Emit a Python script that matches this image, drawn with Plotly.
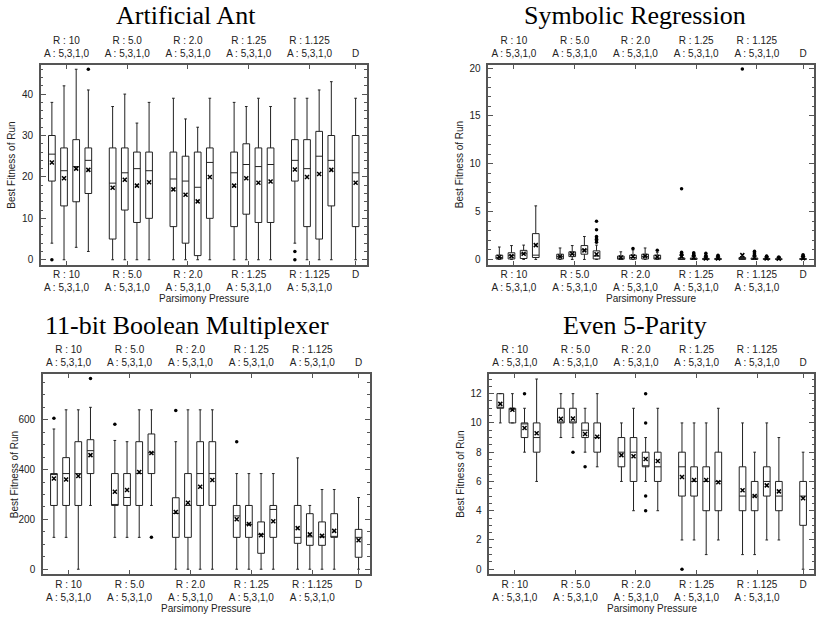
import plotly.graph_objects as go

# ---------------- data ----------------
group_labels = ["R : 10<br>A : 5,3,1,0", "R : 5.0<br>A : 5,3,1,0", "R : 2.0<br>A : 5,3,1,0",
                "R : 1.25<br>A : 5,3,1,0", "R : 1.125<br>A : 5,3,1,0", "D"]
panel_titles = ["Artificial Ant", "Symbolic Regression", "11-bit Boolean Multiplexer", "Even 5-Parity"]

# Artificial Ant (20 boxes = 5 groups x A:5,3,1,0  + D)
ant_low  = [4, 0, 3, 2, 0, 0, 0, 0, 0, 0, 0, 0, 0, 0, 0, 0, 4, 0, 0, 0, 0]
ant_q1   = [19, 13, 14, 16, 5, 12, 9, 10, 8, 4, 1, 10, 8, 11, 9, 9, 19, 8, 5, 13, 8]
ant_med  = [25.5, 21.5, 22.5, 24, 18.5, 21, 22, 21.5, 19.5, 19, 17.5, 23.5, 21, 23, 22.5, 23, 24, 22, 25, 24, 21]
ant_q3   = [30, 27, 29, 27, 27, 27, 26, 26, 26, 25, 26, 27, 26, 28, 27, 27, 29, 29, 31, 30, 30]
ant_high = [38, 42, 46, 41, 37, 40, 33, 38, 39, 34, 32, 39, 38, 37, 39, 37, 39, 39, 41, 43, 39]
ant_mean = [23.5, 19.7, 22, 21.7, 17.4, 19.3, 17.9, 18.7, 17, 15.7, 14.1, 20, 17.9, 19.7, 18.6, 18.9, 21.8, 20, 20.7, 21.7, 18.6]
ant_out_box = [0, 3, 16, 16]
ant_out_val = [0, 46, 2, 0]

# Symbolic Regression
sr_low  = [0] * 21
sr_q1   = [0.05, 0.05, 0.1, 0.2, 0.05, 0.3, 0.55, 0.05, 0.03, 0.03, 0.05, 0.03, 0, 0, 0, 0, 0, 0, 0, 0, 0]
sr_med  = [0.2, 0.4, 0.6, 0.45, 0.3, 0.55, 1.0, 0.35, 0.15, 0.2, 0.3, 0.15, 0.05, 0.05, 0.03, 0.03, 0.05, 0.05, 0.03, 0.02, 0.03]
sr_q3   = [0.45, 0.7, 0.95, 2.7, 0.55, 0.8, 1.45, 0.9, 0.35, 0.45, 0.55, 0.45, 0.15, 0.15, 0.1, 0.1, 0.2, 0.15, 0.1, 0.08, 0.1]
sr_high = [1.3, 1.45, 1.5, 5.6, 1.2, 1.45, 2.4, 1.5, 0.8, 1.0, 1.2, 0.75, 0.35, 0.35, 0.25, 0.25, 0.45, 0.35, 0.25, 0.2, 0.25]
sr_mean = [0.25, 0.35, 0.6, 1.5, 0.3, 0.6, 0.95, 0.55, 0.2, 0.3, 0.35, 0.25, 0.3, 0.2, 0.1, 0.1, 0.45, 0.2, 0.1, 0.08, 0.12]
sr_out_box = [7, 7, 7, 7, 7, 7, 7, 9, 11, 12, 12, 12, 12, 12, 13, 13, 13, 13, 14, 14, 14, 15, 15,
              16, 17, 17, 17, 17, 18, 18, 19, 20, 20, 20]
sr_out_val = [4.0, 3.1, 2.4, 2.25, 2.1, 1.95, 1.8, 1.15, 0.95, 7.4, 0.75, 0.6, 0.5, 0.45, 0.7, 0.6, 0.5, 0.42,
              0.65, 0.4, 0.35, 0.45, 0.35, 19.9, 0.85, 0.7, 0.6, 0.5, 0.35, 0.3, 0.25, 0.5, 0.4, 0.3]

# 11-bit Boolean Multiplexer
mux_low  = [128, 128, 0, 256, 128, 128, 128, 256, 0, 0, 0, 0, 0, 0, 0, 0, 0, 0, 0, 0, 0]
mux_q1   = [256, 256, 256, 384, 256, 256, 256, 384, 128, 128, 256, 256, 128, 128, 64, 128, 104, 96, 96, 128, 48]
mux_med  = [384, 384, 384, 476, 256, 288, 384, 468, 224, 256, 384, 384, 214, 180, 140, 240, 128, 130, 130, 128, 128]
mux_q3   = [384, 448, 512, 520, 384, 384, 512, 543, 287, 384, 512, 512, 256, 256, 190, 256, 256, 223, 190, 223, 160]
mux_high = [563, 640, 640, 650, 517, 512, 640, 640, 512, 640, 640, 640, 384, 384, 384, 384, 447, 256, 320, 320, 288]
mux_mean = [364, 360, 374, 458, 311, 318, 390, 467, 230, 267, 331, 358, 201, 181, 137, 193, 165, 140, 134, 154, 116]
mux_out_box = [0, 3, 4, 7, 8, 12]
mux_out_val = [606, 766, 582, 128, 637, 512]

# Even 5-Parity
par_low  = [10, 10, 8, 6, 9, 9, 8, 7, 6, 4, 6, 4, 2, 2, 1, 2, 1, 1, 2, 2, 0]
par_q1   = [11, 10, 9, 8, 10, 10, 9, 8, 7, 6, 7, 6, 5, 5, 4, 4, 4, 4, 5, 4, 3]
par_med  = [11, 11, 10, 9, 10, 10, 9.5, 9, 8, 8, 7, 7, 7, 6, 6, 6, 5, 5, 6, 5, 5]
par_q3   = [12, 11, 10, 10, 11, 11, 10, 10, 9, 9, 8, 8, 8, 7, 7, 8, 7, 6, 7, 6, 6]
par_high = [12, 12, 11, 13, 12, 12, 11, 12, 10, 11, 9, 11, 10, 10, 10, 11, 10, 8, 10, 9, 8]
par_mean = [11.3, 10.9, 9.65, 9.3, 10.28, 10.3, 9.24, 9.06, 7.8, 7.72, 7.54, 7.4, 6.3, 6.1, 6.1, 5.95, 5.4, 5.0, 5.73, 5.32, 4.85]
par_out_box = [2, 5, 6, 10, 10, 10, 10, 12]
par_out_val = [12, 8, 7, 12, 10, 5, 4, 0]

# ---------------- figure ----------------
W, H = 816, 619
positions = [5 * g + k for g in range(5) for k in range(4)] + [25]
tick_pos = [5 * g + 1.2 for g in range(5)] + [25]

panels = [
    dict(low=ant_low, q1=ant_q1, med=ant_med, q3=ant_q3, high=ant_high, mean=ant_mean,
         ob=ant_out_box, ov=ant_out_val, yr=[-1.2, 47.1], dt=10, mdt=2,
         px=(41, 367), py=(63, 264), tx=186, ty=14),
    dict(low=sr_low, q1=sr_q1, med=sr_med, q3=sr_q3, high=sr_high, mean=sr_mean,
         ob=sr_out_box, ov=sr_out_val, yr=[-0.55, 20.35], dt=5, mdt=1,
         px=(489, 815), py=(63, 264), tx=636, ty=14),
    dict(low=mux_low, q1=mux_q1, med=mux_med, q3=mux_q3, high=mux_high, mean=mux_mean,
         ob=mux_out_box, ov=mux_out_val, yr=[-20, 783], dt=200, mdt=50,
         px=(43, 370), py=(374, 575), tx=187, ty=325),
    dict(low=par_low, q1=par_q1, med=par_med, q3=par_q3, high=par_high, mean=par_mean,
         ob=par_out_box, ov=par_out_val, yr=[-0.34, 13.33], dt=2, mdt=0.5,
         px=(490, 815), py=(374, 575), tx=636, ty=325),
]

fig = go.Figure()
lay = {}
annotations = []
sans = "Liberation Sans, Arial, sans-serif"
ink = "#222222"
frame = "#555555"

for i, p in enumerate(panels):
    n = i + 1
    xa = "x" if n == 1 else f"x{n}"
    ya = "y" if n == 1 else f"y{n}"
    xtop = f"x{n + 4}"
    fig.add_trace(go.Box(
        x=positions, q1=p["q1"], median=p["med"], q3=p["q3"],
        lowerfence=p["low"], upperfence=p["high"],
        width=0.55, whiskerwidth=0.4, boxpoints=False,
        line=dict(color=ink, width=1), fillcolor="rgba(0,0,0,0)",
        xaxis=xa, yaxis=ya, showlegend=False, hoverinfo="skip"))
    fig.add_trace(go.Scatter(
        x=positions, y=p["mean"], mode="markers",
        marker=dict(symbol="x-thin", size=4, line=dict(color="black", width=1.5)),
        xaxis=xa, yaxis=ya, showlegend=False, hoverinfo="skip"))
    fig.add_trace(go.Scatter(
        x=[positions[b] for b in p["ob"]], y=p["ov"], mode="markers",
        marker=dict(symbol="circle", size=3.5, color="black"),
        xaxis=xa, yaxis=ya, showlegend=False, hoverinfo="skip"))
    # invisible trace so that the mirrored top axis is drawn
    fig.add_trace(go.Scatter(
        x=positions, y=p["mean"], mode="markers", marker=dict(opacity=0),
        xaxis=xtop, yaxis=ya, showlegend=False, hoverinfo="skip"))

    xd = [p["px"][0] / W, p["px"][1] / W]
    yd = [1 - p["py"][1] / H, 1 - p["py"][0] / H]
    common_x = dict(range=[-0.9, 25.9], tickmode="array", tickvals=tick_pos, ticktext=group_labels,
                    ticks="inside", ticklen=4, tickcolor=frame, showgrid=False, zeroline=False,
                    tickfont=dict(family=sans, size=10, color=ink), domain=xd)
    lay["xaxis" if n == 1 else f"xaxis{n}"] = dict(
        common_x, anchor=ya, showline=True, linecolor=frame, linewidth=1.5, mirror=True, side="bottom")
    lay[f"xaxis{n + 4}"] = dict(common_x, anchor=ya, overlaying=xa, side="top", showline=False,
                                ticklabelstandoff=5)
    lay["yaxis" if n == 1 else f"yaxis{n}"] = dict(
        range=p["yr"], domain=yd, anchor=xa, dtick=p["dt"], tick0=0, ticks="inside", ticklen=5,
        tickcolor=frame, showline=True, linecolor=frame, linewidth=1.5, mirror="ticks",
        showgrid=False, zeroline=False, ticklabelstandoff=4,
        tickfont=dict(family=sans, size=10, color=ink),
        minor=dict(dtick=p["mdt"], tick0=0, ticks="inside", ticklen=2.5, tickcolor=frame))

    # title
    annotations.append(dict(text=panel_titles[i], x=p["tx"] / W, y=1 - p["ty"] / H, xref="paper", yref="paper",
                            xanchor="center", yanchor="middle", showarrow=False,
                            font=dict(family="Liberation Serif, Times New Roman, serif", size=26, color="black")))
    # x title
    annotations.append(dict(text="Parsimony Pressure", x=(p["px"][0] + p["px"][1]) / 2 / W,
                            y=1 - (p["py"][1] + 34) / H, xref="paper", yref="paper",
                            xanchor="center", yanchor="middle", showarrow=False,
                            font=dict(family=sans, size=10, color=ink)))
    # y title
    annotations.append(dict(text="Best Fitness of Run", x=(p["px"][0] - 29) / W,
                            y=1 - (p["py"][0] + p["py"][1]) / 2 / H, xref="paper", yref="paper",
                            xanchor="center", yanchor="middle", textangle=-90, showarrow=False,
                            font=dict(family=sans, size=10, color=ink)))

fig.update_layout(**lay)
fig.update_layout(width=W, height=H, margin=dict(l=0, r=0, t=0, b=0),
                  paper_bgcolor="white", plot_bgcolor="white", annotations=annotations,
                  boxmode="overlay")
fig.write_html("out.html", config={"displayModeBar": False},
               post_script="document.body.style.margin='0px';")
